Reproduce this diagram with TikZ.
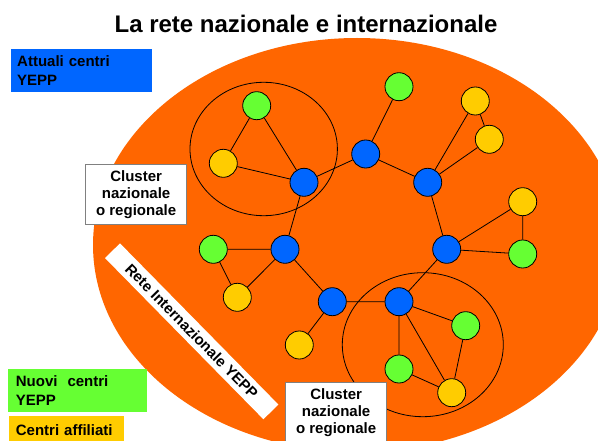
\documentclass[tikz,border=0pt]{standalone}
\usepackage{fontspec}
\setmainfont{Liberation Sans}
\usepackage{xcolor}
\definecolor{yeppblue}{HTML}{0066FF}
\definecolor{yeppgreen}{HTML}{66FF33}
\definecolor{yeppyellow}{HTML}{FFCC00}
\definecolor{yepporange}{HTML}{FF6600}
\begin{document}
\begin{tikzpicture}[x=1pt, y=-1pt,
	centro/.style={circle, draw, line width=0.8pt, minimum size=28pt, inner sep=0pt},
	attuale/.style={centro, fill=yeppblue},
	nuovo/.style={centro, fill=yeppgreen},
	affiliato/.style={centro, fill=yeppyellow},
	legenda/.style={anchor=north west, inner ysep=0pt, align=left, font=\fontsize{15}{18.5}\selectfont\bfseries},
	cluster/.style={draw=gray, line width=1.2pt, fill=white, anchor=north west, minimum width=101pt, minimum height=60pt, inner sep=0pt, align=center, font=\fontsize{15}{17}\selectfont\bfseries}]
			\useasboundingbox (0,0) rectangle (598,441);
			\clip (0,0) rectangle (598,441);
			\node[anchor=base, font=\fontsize{24}{28}\selectfont\bfseries] (titolo) at (306,32.3) {La rete nazionale e internazionale};
			% rete internazionale
			\fill[yepporange] (357,245) ellipse [x radius=264, y radius=207];
			\draw[line width=0.8pt] (263.7,149) ellipse [x radius=73.7, y radius=66.7];
			\draw[line width=0.8pt] (422.8,344.7) ellipse [x radius=80.5, y radius=72];
			% centri
			\node[attuale] (b1) at (304,182.3) {};
			\node[attuale] (b2) at (365.7,154) {};
			\node[attuale] (b3) at (427.7,182.3) {};
			\node[attuale] (b4) at (285,249.3) {};
			\node[attuale] (b5) at (332.3,301.7) {};
			\node[attuale] (b6) at (399,301.7) {};
			\node[attuale] (b7) at (446.7,249.3) {};
			\node[nuovo] (g1) at (256.7,105.7) {};
			\node[nuovo] (g2) at (399,86.7) {};
			\node[nuovo] (g3) at (213.3,249.3) {};
			\node[nuovo] (g4) at (522.7,254) {};
			\node[nuovo] (g5) at (465.7,325.7) {};
			\node[nuovo] (g6) at (399,369) {};
			\node[affiliato] (y1) at (223.3,163.3) {};
			\node[affiliato] (y2) at (475.3,101) {};
			\node[affiliato] (y3) at (489.3,139.3) {};
			\node[affiliato] (y4) at (522.7,201.7) {};
			\node[affiliato] (y5) at (237.3,297.3) {};
			\node[affiliato] (y6) at (299.3,345) {};
			\node[affiliato] (y7) at (451.7,392.7) {};
			% collegamenti
			\draw[line width=0.8pt] (g1) -- (y1) (g1) -- (b1) (y1) -- (b1) (b1) -- (b2) (b2) -- (g2) (b2) -- (b3)
				(b3) -- (y2) (y2) -- (y3) (b3) -- (y3) (b3) -- (b7) (b1) -- (b4)
				(b7) -- (y4) (y4) -- (g4) (b7) -- (g4) (b7) -- (b6) (b6) -- (b5) (b5) -- (b4) (b5) -- (y6)
				(b4) -- (g3) (g3) -- (y5) (y5) -- (b4)
				(b6) -- (g5) (b6) -- (g6) (b6) -- (y7) (g6) -- (y7) (g5) -- (y7);
			\node[fill=white, rotate=-45.5, minimum width=226pt, minimum height=21pt, inner sep=0pt, font=\fontsize{15}{18}\selectfont\bfseries] (rete) at (191.7,331.3) {Rete Internazionale YEPP};
			\node[cluster] (cl1) at (85,164) {Cluster\\nazionale\\o regionale};
			\node[cluster] (cl2) at (285,381.7) {Cluster\\nazionale\\o regionale};
			% legenda
			\node[legenda, fill=yeppblue, inner xsep=6pt, text width=129pt, minimum height=42.4pt] (attuali) at (11,49.3) {Attuali centri\\YEPP};
			\node[legenda, fill=yeppgreen, inner xsep=7.7pt, text width=123.6pt, minimum height=42.7pt] (nuovi) at (8,369) {Nuovi~ centri\\YEPP};
			\node[legenda, fill=yeppyellow, inner xsep=6.7pt, text width=101.6pt, minimum height=27pt] (affiliati) at (9,416) {Centri affiliati};
		\end{tikzpicture}
\end{document}
